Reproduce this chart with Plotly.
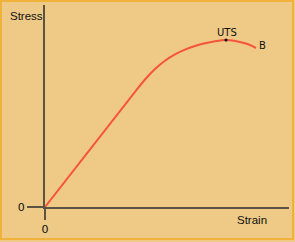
import plotly.graph_objects as go

# Data (arbitrary units)
strain = [0, 90, 100, 110, 120, 130, 140, 150, 160, 170, 181, 189, 197, 205, 211]
stress = [0, 115.2, 127.5, 138, 146.3, 152.6, 157.4, 161, 163.7, 165.7, 167, 166.3, 164.5, 162, 159]
uts_point = (181, 167)
b_point = (211, 159)
x_ticks = [0]
y_ticks = [0]
tick_labels = ["0"]

W, H = 295, 242
L, R, T, B = 45, 6, 5, 35
pw, ph = W - L - R, H - T - B
xr = [0, pw]
yr = [0, ph]

axis_col = "#5c5442"
bg = "#EFC986"

fig = go.Figure()
fig.add_trace(go.Scatter(x=strain, y=stress, mode="lines",
                         line=dict(color="#F5553A", width=2, shape="spline", smoothing=0.6),
                         hoverinfo="skip"))
fig.add_trace(go.Scatter(x=[uts_point[0]], y=[uts_point[1]], mode="markers",
                         marker=dict(color="black", size=3), hoverinfo="skip"))

def px_to_paper_x(px):
    return (px - L) / pw

def py_to_paper_y(py):
    return (H - B - py) / ph

fig.add_shape(type="rect", xref="paper", yref="paper",
              x0=px_to_paper_x(1), x1=px_to_paper_x(293),
              y0=py_to_paper_y(239), y1=py_to_paper_y(1),
              line=dict(color="#F0B23A", width=2), layer="below")

fig.add_annotation(x=uts_point[0], y=uts_point[1], text="UTS", showarrow=False,
                   yshift=8, xshift=1, font=dict(family="DejaVu Sans", size=10, color="#111"))
fig.add_annotation(x=b_point[0], y=b_point[1], text="B", showarrow=False,
                   xanchor="left", xshift=1, yshift=3,
                   font=dict(family="DejaVu Sans", size=10, color="#111"))
fig.add_annotation(xref="paper", yref="paper", x=px_to_paper_x(8), y=py_to_paper_y(16),
                   text="Stress", showarrow=False, xanchor="left", yanchor="middle",
                   font=dict(family="Liberation Sans", size=11.5, color="#111"))
fig.add_annotation(xref="paper", yref="paper", x=px_to_paper_x(235), y=py_to_paper_y(220),
                   text="Strain", showarrow=False, xanchor="left", yanchor="middle",
                   font=dict(family="Liberation Sans", size=11.5, color="#111"))

fig.update_layout(
    width=W, height=H, margin=dict(l=L, r=R, t=T, b=B),
    paper_bgcolor=bg, plot_bgcolor=bg, showlegend=False,
    xaxis=dict(range=xr, showgrid=False, zeroline=False, showline=True,
               linecolor=axis_col, linewidth=2, ticks="outside", ticklen=11,
               tickwidth=2, tickcolor=axis_col, tickvals=x_ticks, ticktext=tick_labels,
               tickfont=dict(family="DejaVu Sans", size=11, color="#111"), fixedrange=True),
    yaxis=dict(range=yr, showgrid=False, zeroline=False, showline=True,
               linecolor=axis_col, linewidth=2, ticks="outside", ticklen=16,
               tickwidth=2, tickcolor=axis_col, tickvals=y_ticks, ticktext=tick_labels,
               tickfont=dict(family="DejaVu Sans", size=11, color="#111"), fixedrange=True),
)
fig.write_html("out.html", config={"displayModeBar": False})
